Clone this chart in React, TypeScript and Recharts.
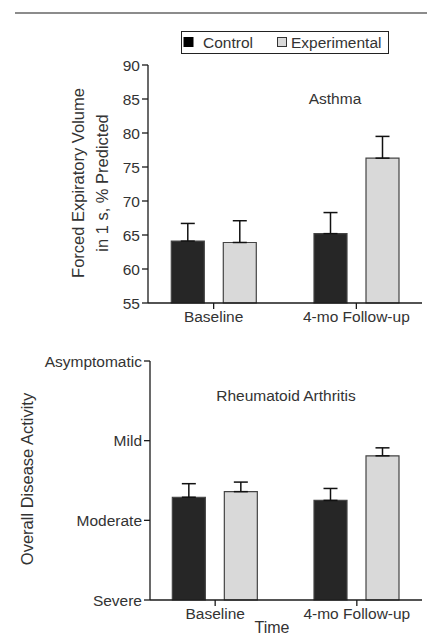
import React from 'react';
import { BarChart, Bar, XAxis, YAxis, ErrorBar } from 'recharts';

const categories = ['Baseline', '4-mo Follow-up'];
const asthmaControl = [64.1, 65.2];
const asthmaControlErr = [2.6, 3.1];
const asthmaExp = [63.9, 76.3];
const asthmaExpErr = [3.2, 3.2];
const fevTicks = [55, 60, 65, 70, 75, 80, 85, 90];

const raControl = [1.29, 1.25];
const raControlErr = [0.17, 0.15];
const raExp = [1.36, 1.81];
const raExpErr = [0.12, 0.1];
const activityLabels = ['Severe', 'Moderate', 'Mild', 'Asymptomatic'];

const FONT = '"Liberation Sans", Arial, Helvetica, sans-serif';
const TEXT = '#333';
const CONTROL_FILL = '#262626';
const EXP_FILL = '#d9d9d9';

const asthmaData = categories.map((name, i) => ({
  x: i + 1,
  name,
  control: asthmaControl[i],
  controlErr: [0, asthmaControlErr[i]],
  exp: asthmaExp[i],
  expErr: [0, asthmaExpErr[i]],
}));

const raData = categories.map((name, i) => ({
  x: i + 1,
  name,
  control: raControl[i],
  controlErr: [0, raControlErr[i]],
  exp: raExp[i],
  expErr: [0, raExpErr[i]],
}));

const tickStyle = { fill: TEXT, fontSize: 15.5, fontFamily: FONT };
const axisLine = { stroke: '#1a1a1a', strokeWidth: 1.3 };

function Bars() {
  return [
    <Bar key="c" dataKey="control" fill={CONTROL_FILL} stroke="#444" strokeWidth={1.2} barSize={33} isAnimationActive={false}>
      <ErrorBar dataKey="controlErr" width={7} stroke="#111" strokeWidth={1.5} />
    </Bar>,
    <Bar key="e" dataKey="exp" fill={EXP_FILL} stroke="#444" strokeWidth={1.2} barSize={33} isAnimationActive={false}>
      <ErrorBar dataKey="expErr" width={7} stroke="#111" strokeWidth={1.5} />
    </Bar>,
  ];
}

function CategoryAxis({ height }: { height: number }) {
  return (
    <XAxis
      dataKey="x"
      type="number"
      domain={[0.54, 2.46]}
      ticks={[1, 2]}
      tickFormatter={(v: number) => categories[v - 1]}
      tick={tickStyle}
      axisLine={axisLine}
      tickLine={axisLine}
      tickSize={6}
      height={height}
      allowDataOverflow
    />
  );
}

export default function App() {
  return (
    <div style={{ position: 'absolute', left: 0, top: 0, width: 427, height: 643, background: '#fff', fontFamily: FONT }}>
      <div style={{ position: 'absolute', left: 0, top: 0 }}>
        <BarChart width={427} height={330} data={asthmaData} barGap={19} margin={{ top: 65, right: 5, left: 88, bottom: 0 }}>
          {CategoryAxis({ height: 27 })}
          <YAxis
            type="number"
            domain={[55, 90]}
            ticks={fevTicks}
            tick={tickStyle}
            axisLine={axisLine}
            tickLine={axisLine}
            tickSize={6}
            width={60}
          />
          {Bars()}
        </BarChart>
      </div>
      <div style={{ position: 'absolute', left: 0, top: 330 }}>
        <BarChart width={427} height={313} data={raData} barGap={19} margin={{ top: 31, right: 5, left: 90, bottom: 0 }}>
          {CategoryAxis({ height: 43 })}
          <YAxis
            type="number"
            domain={[0, 3]}
            ticks={[0, 1, 2, 3]}
            tickFormatter={(v: number) => activityLabels[v]}
            tick={tickStyle}
            axisLine={axisLine}
            tickLine={axisLine}
            tickSize={6}
            width={60}
          />
          {Bars()}
        </BarChart>
      </div>
      <svg width={427} height={643} style={{ position: 'absolute', left: 0, top: 0, pointerEvents: 'none' }}>
        <line x1={15} y1={13} x2={427} y2={13} stroke="#666" strokeWidth={1.5} />
        <g fontFamily={FONT} fill={TEXT}>
          <text x={335} y={98} fontSize={15.5} textAnchor="middle" dominantBaseline="central">Asthma</text>
          <text x={286} y={395} fontSize={15.5} textAnchor="middle" dominantBaseline="central">Rheumatoid Arthritis</text>
          <text x={272} y={627} fontSize={16} textAnchor="middle" dominantBaseline="central">Time</text>
          <text transform="translate(78,183) rotate(-90)" fontSize={16.5} textAnchor="middle" dominantBaseline="central">Forced Expiratory Volume</text>
          <text transform="translate(102,183) rotate(-90)" fontSize={16.5} textAnchor="middle" dominantBaseline="central">in 1 s, % Predicted</text>
          <text transform="translate(27,479) rotate(-90)" fontSize={16.5} textAnchor="middle" dominantBaseline="central">Overall Disease Activity</text>
        </g>
        <rect x={181.5} y={31.5} width={207} height={22} fill="none" stroke="#222" strokeWidth={1} />
        <rect x={184} y={37.5} width={9} height={9} fill="#000" stroke="#000" />
        <text x={203} y={42.5} fontFamily={FONT} fontSize={15.5} fill={TEXT} dominantBaseline="central">Control</text>
        <rect x={277.5} y={37.5} width={9} height={9} fill={EXP_FILL} stroke="#333" />
        <text x={291} y={42.5} fontFamily={FONT} fontSize={15.5} fill={TEXT} dominantBaseline="central">Experimental</text>
      </svg>
    </div>
  );
}
